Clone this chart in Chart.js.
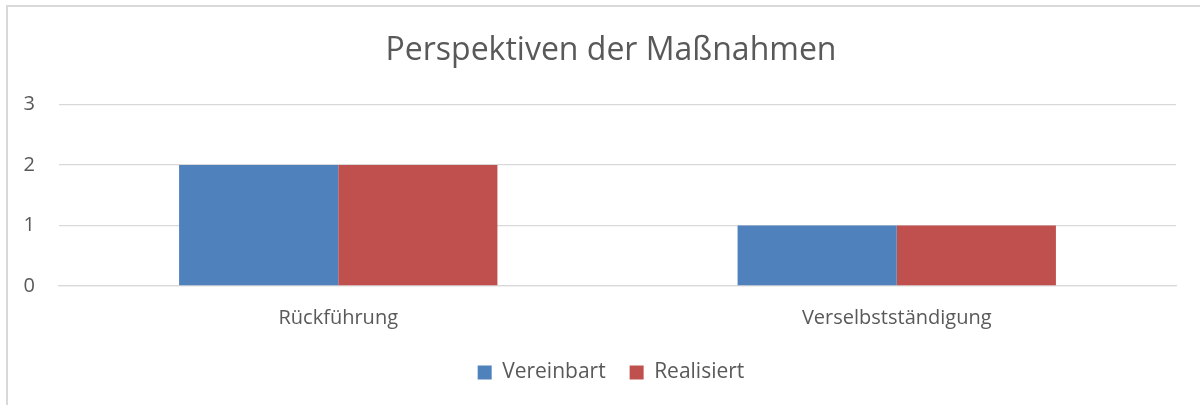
<!DOCTYPE html>
<html>
<head>
<meta charset="utf-8">
<script src="https://cdn.jsdelivr.net/npm/chart.js@4"></script>
<style>
    body { margin: 0; background: #fff; }
    #wrap { position: relative; width: 1200px; height: 405px; overflow: hidden; }
    #frame { position: absolute; left: 6px; top: 5px; width: 1300px; height: 500px; border: 2px solid #d9d9d9; }
    #chart { position: absolute; left: 0; top: 0; }
</style>
</head>
<body>
<div id="wrap">
    <div id="frame"></div>
    <canvas id="chart" width="1200" height="405"></canvas>
</div>
<script>
const kategorien = ['Rückführung', 'Verselbstständigung'];
const vereinbart = [2, 1];
const realisiert = [2, 1];
const yTicks = [0, 1, 2, 3];

const grau = '#595959';
const fontName = "'Open Sans', 'Liberation Sans', sans-serif";

var ctx = document.getElementById('chart').getContext('2d');
var chart = new Chart(ctx, {
    type: 'bar',
    data: {
        labels: kategorien,
        datasets: [{
            label: 'Vereinbart',
            data: vereinbart,
            backgroundColor: '#4F81BD',
            categoryPercentage: 0.57,
            barPercentage: 1.0
        },
        {
            label: 'Realisiert',
            data: realisiert,
            backgroundColor: '#C0504D',
            categoryPercentage: 0.57,
            barPercentage: 1.0
        }]
    },
    options: {
        responsive: false,
        animation: false,
        // links etwas Platz, damit Titel und Legende leicht nach rechts rücken
        layout: { padding: { left: 22, right: 0, top: 0, bottom: 12 } },
        plugins: {
            title: {
                display: true,
                text: 'Perspektiven der Maßnahmen',
                color: grau,
                font: { family: fontName, size: 32, weight: 'normal' },
                padding: { top: 32, bottom: 34 }
            },
            legend: {
                position: 'bottom',
                labels: {
                    color: grau,
                    boxWidth: 14,
                    boxHeight: 14,
                    padding: 24,
                    font: { family: fontName, size: 21 }
                }
            },
            tooltip: { enabled: false }
        },
        scales: {
            y: {
                min: 0,
                max: 3,
                afterBuildTicks: function (axis) {
                    axis.ticks = yTicks.map(v => ({ value: v }));
                },
                afterFit: function (axis) { axis.width = 37; },
                grid: { color: '#d9d9d9', lineWidth: 1.3, drawTicks: false },
                border: { display: false },
                ticks: {
                    color: grau,
                    padding: 24,
                    font: { family: fontName, size: 20 }
                }
            },
            // leere Achse rechts, nur als Abstand
            rechts: {
                type: 'linear',
                position: 'right',
                afterFit: function (axis) { axis.width = 24; },
                grid: { display: false, drawTicks: false },
                border: { display: false },
                ticks: { display: false }
            },
            x: {
                afterFit: function (axis) { axis.height = 52; },
                grid: { display: false, drawTicks: false },
                border: { display: true, color: '#d9d9d9', width: 1.3 },
                ticks: {
                    color: grau,
                    padding: 20,
                    font: { family: fontName, size: 20 }
                }
            }
        }
    }
});
</script>
</body>
</html>
